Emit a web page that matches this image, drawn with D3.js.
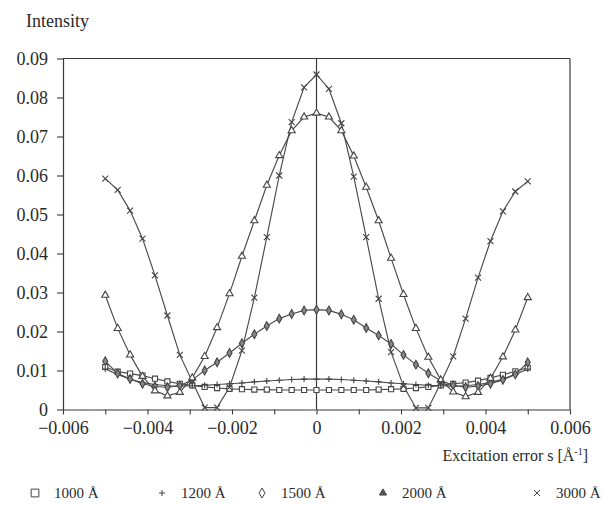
<!DOCTYPE html>
<html><head><meta charset="utf-8">
<script src="https://cdn.jsdelivr.net/npm/d3@7/dist/d3.min.js"></script>
<style>
body{margin:0;background:#fff}
text{font-family:"Liberation Serif","Times New Roman",serif;fill:#2a2a2a}
</style>
</head><body>
<svg id="chart" width="603" height="505"></svg>
<script>
// Excitation error s (1/Å)
const sValues = [-0.005,-0.004706,-0.004412,-0.004118,-0.003824,-0.003529,-0.003235,-0.002941,-0.002647,-0.002353,-0.002059,-0.001765,-0.001471,-0.001176,-0.000882,-0.000588,-0.000294,0,
 0.000294,0.000588,0.000882,0.001176,0.001471,0.001765,0.002059,0.002353,0.002647,0.002941,0.003235,0.003529,0.003824,0.004118,0.004412,0.004706,0.005];

const i1000 = [0.0109,0.0097,0.0092,0.0087,0.0079,0.0072,0.0066,0.0062,0.0058,0.0055,0.0053,0.0052,0.0051,0.0051,0.0050,0.0050,0.0050,0.0050,
 0.0050,0.0050,0.0050,0.0050,0.0051,0.0052,0.0053,0.0055,0.0058,0.0062,0.0066,0.0069,0.0074,0.0081,0.0089,0.0098,0.0107];
const i1200 = [0.0104,0.0090,0.0078,0.0069,0.0064,0.0061,0.0060,0.0061,0.0062,0.0064,0.0066,0.0068,0.0071,0.0073,0.0075,0.0077,0.0078,0.0078,
 0.0078,0.0077,0.0075,0.0073,0.0071,0.0068,0.0066,0.0064,0.0062,0.0061,0.0060,0.0061,0.0064,0.0069,0.0078,0.0090,0.0104];
const i1500 = [0.0124,0.0092,0.0078,0.0066,0.0059,0.0057,0.0061,0.0076,0.0100,0.0121,0.0145,0.0170,0.0193,0.0214,0.0233,0.0245,0.0254,0.0256,
 0.0254,0.0244,0.0230,0.0209,0.0190,0.0168,0.0140,0.0115,0.0093,0.0074,0.0062,0.0057,0.0060,0.0066,0.0076,0.0090,0.0121];
const i2000 = [0.0293,0.0208,0.0140,0.0085,0.0048,0.0035,0.0044,0.0081,0.0136,0.0210,0.0297,0.0393,0.0484,0.0575,0.0651,0.0715,0.0750,0.0760,
 0.0750,0.0715,0.0650,0.0570,0.0484,0.0388,0.0295,0.0208,0.0134,0.0076,0.0045,0.0033,0.0044,0.0080,0.0135,0.0204,0.0287];
const i3000 = [0.0592,0.0563,0.0510,0.0438,0.0344,0.0241,0.0140,0.0072,0.0005,0.0005,0.0057,0.0151,0.0287,0.0442,0.0600,0.0737,0.0826,0.0859,
 0.0822,0.0734,0.0597,0.0442,0.0284,0.0147,0.0060,0.0004,0.0004,0.0068,0.0136,0.0233,0.0338,0.0432,0.0508,0.0559,0.0585];

const seriesLabels = ["1000 Å","1200 Å","1500 Å","2000 Å","3000 Å"];
const seriesMarkers = ["square","plus","diamond","triangle","cross"];

const xTickValues = [-0.006,-0.005,-0.004,-0.003,-0.002,-0.001,0,0.001,0.002,0.003,0.004,0.005,0.006];
const xTickLabels = ["−0.006","","−0.004","","−0.002","","0","","0.002","","0.004","","0.006"];
const yTickValues = [0,0.01,0.02,0.03,0.04,0.05,0.06,0.07,0.08,0.09];
const yTickLabels = ["0","0.01","0.02","0.03","0.04","0.05","0.06","0.07","0.08","0.09"];

const series = [i1000,i1200,i1500,i2000,i3000].map((vals,k)=>({
  label: seriesLabels[k], marker: seriesMarkers[k],
  points: vals.map((v,i)=>({s:sValues[i], v}))
}));

const svg = d3.select("#chart");
const x = d3.scaleLinear().domain([-0.006,0.006]).range([63,570]);
const y = d3.scaleLinear().domain([0,0.09]).range([409.5,58.5]);
const ink = "#3a3a3a";

// frame
svg.append("line").attr("x1",x(-0.006)).attr("x2",x(0.006)).attr("y1",y(0.09)).attr("y2",y(0.09)).attr("stroke",ink).attr("stroke-width",1.2);
svg.append("line").attr("x1",x(0.006)).attr("x2",x(0.006)).attr("y1",y(0.09)).attr("y2",y(0)).attr("stroke",ink).attr("stroke-width",1.2);
svg.append("line").attr("x1",x(0)).attr("x2",x(0)).attr("y1",y(0.09)).attr("y2",y(0)).attr("stroke",ink).attr("stroke-width",1.2);

// axes
const yAxis = d3.axisLeft(y).tickValues(yTickValues).tickFormat((d,i)=>yTickLabels[i]).tickSize(6).tickSizeOuter(0).tickPadding(9);
const gy = svg.append("g").attr("transform",`translate(${x(-0.006)},0)`).call(yAxis);
const xAxis = d3.axisBottom(x).tickValues(xTickValues).tickFormat((d,i)=>xTickLabels[i]).tickSize(5).tickSizeOuter(0).tickPadding(7);
const gx = svg.append("g").attr("transform",`translate(0,${y(0)})`).call(xAxis);
[gx,gy].forEach(g=>{
  g.selectAll("path.domain").attr("stroke",ink).attr("stroke-width",1.2);
  g.selectAll(".tick line").attr("stroke",ink).attr("stroke-width",1.1);
  g.selectAll("text").attr("font-size",18).attr("font-family","Liberation Serif, serif").attr("fill","#2a2a2a");
});

// curves
const line = d3.line().x(d=>x(d.s)).y(d=>y(d.v));
const markerPath = {
  square: d3.symbol().type(d3.symbolSquare).size(26)(),
  plus: "M-3,0H3M0,-3V3",
  diamond: d3.symbol().type(d3.symbolDiamond).size(22)(),
  triangle: d3.symbol().type(d3.symbolTriangle).size(22)(),
  cross: "M-3,-3L3,3M-3,3L3,-3"
};
const markerFill = {square:"#fff", plus:"none", diamond:"#888", triangle:"#fff", cross:"none"};

series.forEach(sr=>{
  svg.append("path").datum(sr.points).attr("d",line).attr("fill","none").attr("stroke","#4a4a4a").attr("stroke-width",1.15);
});
series.forEach(sr=>{
  svg.append("g").selectAll("path").data(sr.points).join("path")
    .attr("transform",d=>`translate(${x(d.s)},${y(d.v)})`)
    .attr("d",markerPath[sr.marker])
    .attr("fill",markerFill[sr.marker]).attr("stroke","#444").attr("stroke-width",1.1);
});

// titles
svg.append("text").attr("x",26).attr("y",27).attr("font-size",18).text("Intensity");
const xt = svg.append("text").attr("x",588).attr("y",461).attr("text-anchor","end").attr("font-size",16);
xt.append("tspan").text("Excitation error s [Å");
xt.append("tspan").attr("font-size",10).attr("dy",-6).text("-1");
xt.append("tspan").attr("dy",6).text("]");

// legend
const legendX = [35,162,262,383,537];
series.forEach((sr,k)=>{
  const g = svg.append("g").attr("transform",`translate(${legendX[k]},493)`);
  let p = markerPath[sr.marker];
  if (sr.marker==="square") p = d3.symbol().type(d3.symbolSquare).size(60)();
  if (sr.marker==="diamond") p = "M0,-5L3,0L0,5L-3,0Z";
  g.append("path").attr("d",p)
    .attr("fill", sr.marker==="triangle" ? "#555" : (sr.marker==="diamond"?"#fff":markerFill[sr.marker]))
    .attr("stroke","#444").attr("stroke-width",1);
  g.append("text").attr("x",19).attr("y",5).attr("font-size",15).text(sr.label);
});
</script>
</body></html>
